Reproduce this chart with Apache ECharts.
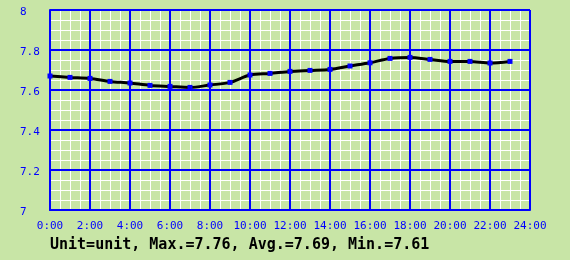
<!DOCTYPE html>
<html>
<head>
<meta charset="utf-8">
<script src="https://cdn.jsdelivr.net/npm/echarts@6/dist/echarts.min.js"></script>
<style>
  html, body { margin: 0; padding: 0; background: #c8e5a6; }
  #chart { width: 570px; height: 260px; }
</style>
</head>
<body>
<div id="chart"></div>
<script>
// hourly readings
const hours = [0, 1, 2, 3, 4, 5, 6, 7, 8, 9, 10, 11, 12, 13, 14, 15, 16, 17, 18, 19, 20, 21, 22, 23]
const values = [7.670, 7.663, 7.658, 7.643, 7.635, 7.623, 7.618, 7.613, 7.625, 7.638, 7.675, 7.683,
  7.693, 7.698, 7.703, 7.720, 7.736, 7.758, 7.763, 7.753, 7.743, 7.743, 7.735, 7.743]
const footer = 'Unit=unit, Max.=7.76, Avg.=7.69, Min.=7.61'

const blue = '#0000ff'
const mono = '"DejaVu Sans Mono", monospace'

const chart = echarts.init(document.getElementById('chart'))

const points = hours.map((h, i) => [h, values[i]])

// white fine grid lives on a hidden pair of axes, drawn under the blue one
const minorX = {
  type: 'value', min: 0, max: 24, interval: 0.5, z: 0,
  axisLine: { show: false }, axisTick: { show: false }, axisLabel: { show: false },
  splitLine: { show: true, lineStyle: { color: '#ffffff', width: 1 } }
}
const minorY = {
  type: 'value', min: 7, max: 8, interval: 0.05, position: 'left', z: 0,
  axisLine: { show: false }, axisTick: { show: false }, axisLabel: { show: false },
  splitLine: { show: true, lineStyle: { color: '#ffffff', width: 1 } }
}

chart.setOption({
  backgroundColor: '#c8e5a6',
  animation: false,
  grid: { left: 50, right: 40, top: 10, bottom: 50 },
  xAxis: [{
    type: 'value',
    min: 0,
    max: 24,
    interval: 2,
    z: 2,
    axisLine: { show: true, lineStyle: { color: blue, width: 2 } },
    axisTick: { show: false },
    axisLabel: {
      color: blue,
      fontFamily: mono,
      fontSize: 11,
      margin: 11,
      formatter: v => v + ':00'
    },
    splitLine: { show: true, lineStyle: { color: blue, width: 2 } }
  }, minorX],
  yAxis: [{
    type: 'value',
    min: 7,
    max: 8,
    interval: 0.2,
    position: 'left',
    z: 2,
    axisLine: { show: true, lineStyle: { color: blue, width: 2 } },
    axisTick: { show: false },
    axisLabel: {
      color: blue,
      fontFamily: mono,
      fontSize: 11,
      align: 'left',
      margin: 30,
      formatter: v => '{t|' + Math.round(v * 10) / 10 + '}',
      rich: {
        t: { color: blue, fontFamily: mono, fontSize: 11, padding: [5, 0, 0, 0] }
      }
    },
    splitLine: { show: true, lineStyle: { color: blue, width: 2 } }
  }, minorY],
  graphic: [{
    type: 'text',
    left: 50,
    top: 238,
    style: {
      text: footer,
      fill: '#000',
      font: 'bold 15px ' + mono
    }
  }],
  series: [{
    type: 'line',
    data: points,
    smooth: 0.3,
    symbol: 'rect',
    symbolSize: 5,
    itemStyle: { color: blue },
    lineStyle: { color: '#000', width: 3 },
    z: 5
  }]
})
</script>
</body>
</html>
